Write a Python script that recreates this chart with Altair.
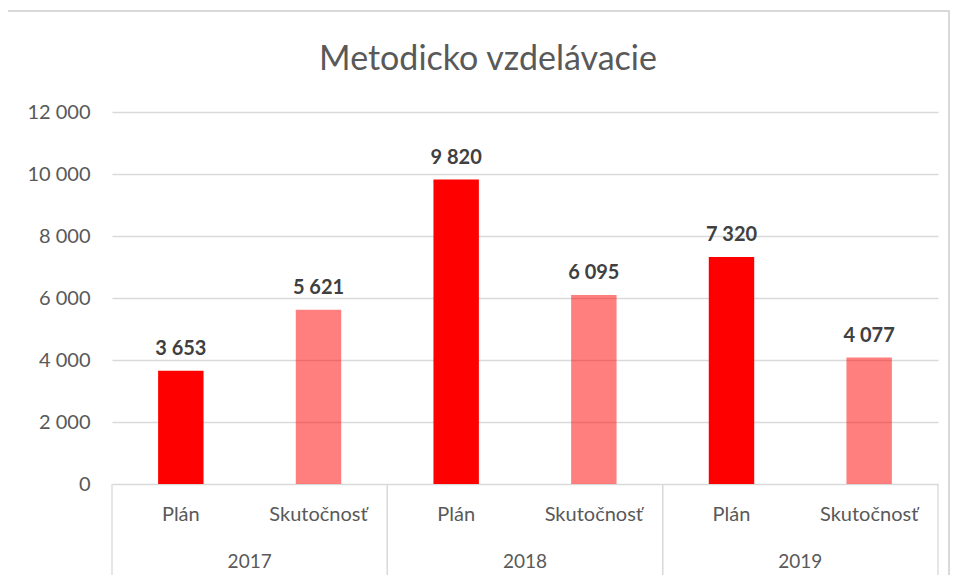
import altair as alt
import pandas as pd

years = ["2017", "2017", "2018", "2018", "2019", "2019"]
types = ["Plán", "Skutočnosť", "Plán", "Skutočnosť", "Plán", "Skutočnosť"]
values = [3653, 5621, 9820, 6095, 7320, 4077]
year_list = ["2017", "2018", "2019"]
type_list = ["Plán", "Skutočnosť"]
y_ticks = [0, 2000, 4000, 6000, 8000, 10000, 12000]

df = pd.DataFrame({"year": years, "type": types, "value": values})
ydf = pd.DataFrame({"year": year_list})

W, H = 826, 372
FONT = "Lato"
GRAY = "#D9D9D9"
TXT = "#595959"

x_enc = alt.X("year:N", sort=year_list, axis=None,
              scale=alt.Scale(paddingInner=0, paddingOuter=0))
xoff = alt.XOffset("type:N", sort=type_list,
                   scale=alt.Scale(paddingInner=0.67, paddingOuter=0.335))

base = alt.Chart(df)

bars = base.mark_bar(color="#FF0000").encode(
    x=x_enc,
    xOffset=xoff,
    y=alt.Y("value:Q",
            scale=alt.Scale(domain=[0, 12000]),
            axis=alt.Axis(values=y_ticks, title=None, grid=True, domain=False,
                          ticks=False, gridColor=GRAY, gridWidth=1.3,
                          labelPadding=22, labelColor=TXT, labelFont=FONT,
                          labelFontSize=20,
                          labelExpr="replace(format(datum.value, ','), ',', ' ')")),
    fillOpacity=alt.condition(alt.datum.type == "Plán", alt.value(1), alt.value(0.5)),
)

labels = base.transform_calculate(
    lbl="replace(format(datum.value, ','), ',', ' ')"
).mark_text(font=FONT, fontSize=20, fontWeight="bold", color="#404040",
            baseline="bottom", dy=-12).encode(
    x=x_enc, xOffset=xoff, y=alt.Y("value:Q"), text="lbl:N")

sub = base.mark_text(font=FONT, fontSize=20, color=TXT, baseline="middle").encode(
    x=x_enc, xOffset=xoff, y=alt.value(H + 31), text="type:N")

yrs = alt.Chart(ydf).mark_text(font=FONT, fontSize=19, color=TXT, baseline="middle").encode(
    x=x_enc, y=alt.value(H + 78), text="year:N")

sep0 = alt.Chart(ydf).mark_rule(color=GRAY, strokeWidth=1.3).encode(
    x=alt.X("year:N", sort=year_list, bandPosition=0, axis=None),
    y=alt.value(H), y2=alt.value(H + 95))
sep1 = alt.Chart(ydf).mark_rule(color=GRAY, strokeWidth=1.3).encode(
    x=alt.X("year:N", sort=year_list, bandPosition=1, axis=None),
    y=alt.value(H), y2=alt.value(H + 95))

frame = alt.Chart(ydf).mark_rect(fill=None, stroke=GRAY, strokeWidth=1.5).encode(
    x=alt.value(-107), x2=alt.value(W + 11), y=alt.value(-101), y2=alt.value(H + 120))

chart = alt.layer(frame, sep0, sep1, bars, labels, sub, yrs).properties(
    width=W, height=H,
    title=alt.TitleParams("Metodicko vzdelávacie", font=FONT, fontSize=34,
                          fontWeight="normal", color=TXT, anchor="middle",
                          dx=-37, offset=-67),
    autosize=alt.AutoSizeParams(type="none"),
    padding={"left": 104, "top": 104, "right": 12, "bottom": 91},
).configure_view(stroke=None)

chart.save("out.html", embed_options={"renderer": "svg", "actions": False})
